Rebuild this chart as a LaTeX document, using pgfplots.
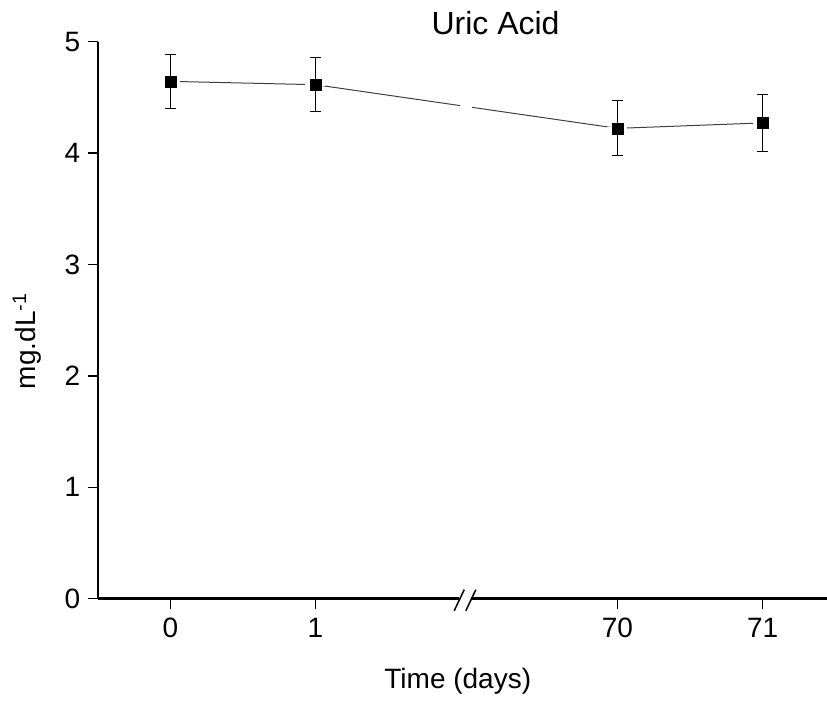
\documentclass[border=0pt]{standalone}
\usepackage{pgfplots}
\pgfplotsset{compat=1.18}
\usepackage{fontspec}
\setmainfont{Liberation Sans}
\begin{document}
\begin{tikzpicture}
\path[use as bounding box] (-97.7pt,-104.3pt) rectangle (729.3pt,598.7pt);
\begin{axis}[
  at={(0pt,0pt)}, anchor=south west,
  scale only axis, width=729.3pt, height=557pt,
  xmin=-0.5, xmax=4.523, ymin=0, ymax=5,
  axis x line*=bottom, axis y line*=left,
  axis line style={line width=2.4pt, black},
  tick align=outside, major tick length=10pt,
  tick style={line width=1.3pt, black},
  xtick={0,1,3.08,4.08}, xticklabels={0,1,70,71},
  ytick={0,1,2,3,4,5},
  /pgf/number format/assume math mode=true,
  tick label style={font=\fontsize{28}{32}\selectfont},
  xticklabel style={yshift=-6pt},
  yticklabel style={xshift=-4pt},
  clip=false,
]
\addplot[line width=1pt, black!75] coordinates {(0,4.644) (1,4.614) (3.08,4.222) (4.08,4.271)};
\addplot[only marks, mark=-, mark size=10pt, mark options={draw=white, line width=3pt}] coordinates {(0,4.644) (1,4.614) (3.08,4.222) (4.08,4.271)};
\addplot[only marks, mark=square*, mark size=5.5pt, black,
  error bars/.cd, y dir=both, y explicit,
  error bar style={line width=1pt, black},
  error mark options={rotate=90, mark size=5.5pt, line width=1pt, black}]
  coordinates {(0,4.644) +- (0,0.244) (1,4.614) +- (0,0.245) (3.08,4.222) +- (0,0.248) (4.08,4.271) +- (0,0.257)};
\coordinate (g1) at (axis cs:1.993,4.25);
\coordinate (g2) at (axis cs:2.076,4.6);
\coordinate (b1) at (axis cs:1.99,0);
\coordinate (b2) at (axis cs:2.07,0);
\coordinate (tt) at (axis cs:2.24,5);
\coordinate (xl) at (axis cs:1.98,0);
\coordinate (yl) at (axis cs:-0.5,2.31);
\end{axis}
\fill[white] (g1) rectangle (g2);
\fill[white] ([yshift=-2pt]b1) rectangle ([yshift=2pt]b2);
\draw[line width=1.5pt] ([xshift=-5pt,yshift=-12pt]b1) -- ([xshift=5pt,yshift=9pt]b1);
\draw[line width=1.5pt] ([xshift=-5pt,yshift=-12pt]b2) -- ([xshift=5pt,yshift=9pt]b2);
\node[anchor=base, font=\fontsize{32}{36}\selectfont, inner sep=0pt] at ([yshift=6.7pt]tt) {Uric Acid};
\node[anchor=base, font=\fontsize{28}{32}\selectfont, inner sep=0pt] at ([yshift=-90pt]xl) {Time (days)};
\node[rotate=90, font=\fontsize{28}{32}\selectfont, inner sep=0pt] at ([xshift=-71pt]yl) {mg.dL\textsuperscript{-1}};
\end{tikzpicture}
\end{document}
